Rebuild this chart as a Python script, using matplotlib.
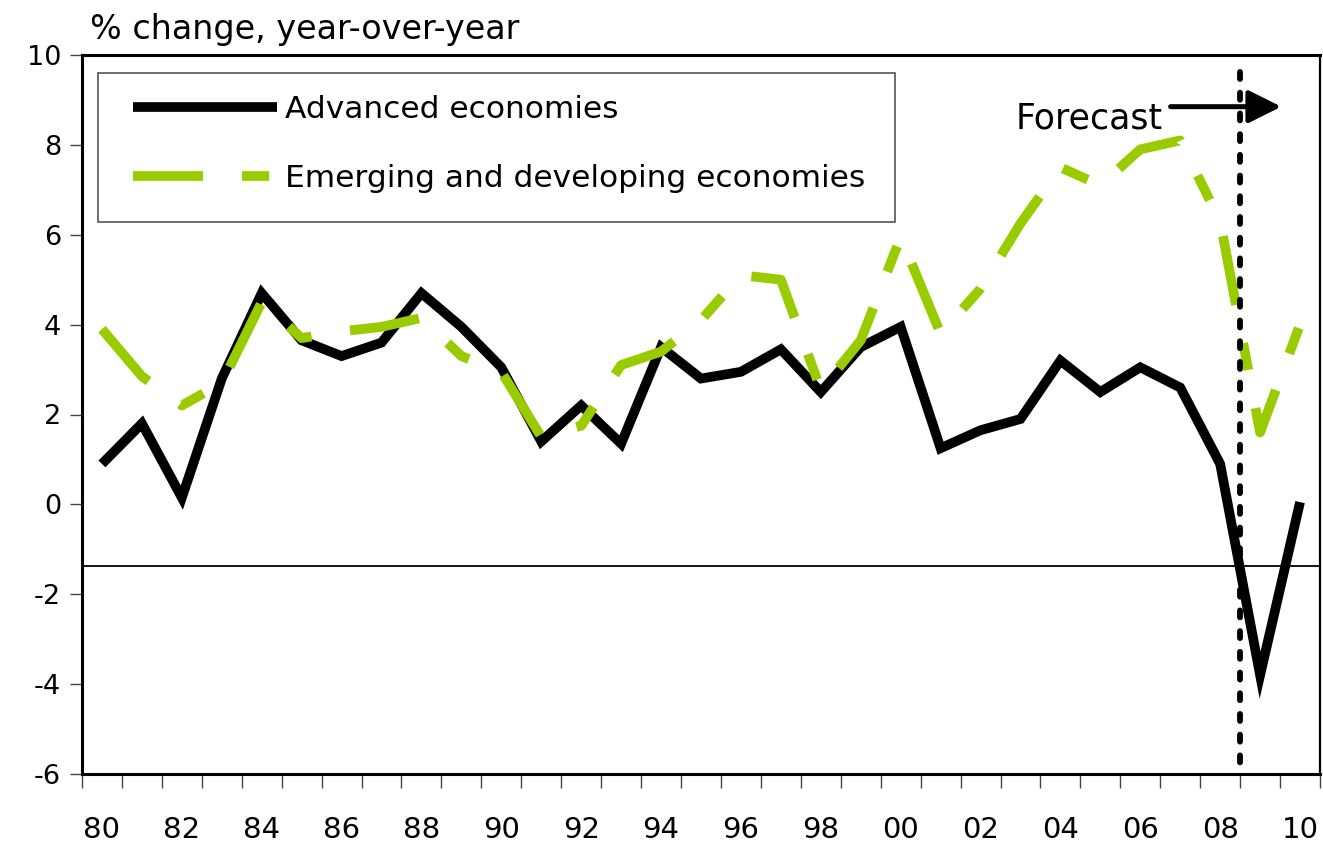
import numpy as np
import matplotlib
matplotlib.use("Agg")
import matplotlib.pyplot as plt
from matplotlib.patches import FancyArrowPatch, Rectangle

# Daten
years = np.arange(1980, 2011)
advanced = [0.9, 1.8, 0.15, 2.8, 4.7, 3.65, 3.3, 3.6, 4.7, 3.95, 3.05,
            1.4, 2.2, 1.35, 3.5, 2.8, 2.95, 3.45, 2.5, 3.5, 3.95,
            1.25, 1.65, 1.9, 3.2, 2.5, 3.05, 2.6, 0.9, -3.8, 0.05]
emerging = [3.9, 2.85, 2.2, 2.7, 4.5, 3.7, 3.85, 3.95, 4.15, 3.3, 2.95,
            1.5, 1.75, 3.1, 3.4, 4.1, 5.1, 5.0, 2.55, 3.65, 5.95,
            3.8, 4.8, 6.25, 7.5, 7.1, 7.9, 8.1, 6.3, 1.6, 4.0]
tick_years = np.arange(1980, 2011, 2)
tick_labels = [f"{y % 100:02d}" for y in tick_years]
forecast_year = 2008.5
ref_line = -1.37

plt.rcParams['font.family'] = ['DejaVu Sans']
plt.rcParams['axes.unicode_minus'] = False

W, H = 1323, 859
fig = plt.figure(figsize=(W / 100, H / 100), dpi=100)
ax = fig.add_axes([82 / W, 85 / H, 1238 / W, 719 / H])

green = '#99cc00'
ax.plot(years, advanced, color='black', lw=7, solid_joinstyle='miter',
        solid_capstyle='butt', label='Advanced economies', zorder=3)
ax.plot(years, emerging, color=green, lw=7, dash_capstyle='butt',
        linestyle=(0, (7.2, 4.0, 2.8, 4.0)),
        label='Emerging and developing economies', zorder=4)

ax.axhline(ref_line, color='black', lw=1.3, zorder=2)
ax.plot([forecast_year, forecast_year], [9.62, -6], color='black', lw=4.2,
        linestyle=(0, (1.2, 2.35)), dash_capstyle='round', zorder=5,
        clip_on=False)

# Forecast-Pfeil
arr = FancyArrowPatch((2006.69, 8.85), (2009.6, 8.85),
                      arrowstyle='-|>,head_length=1.0,head_width=0.5',
                      mutation_scale=20, color='black', lw=3.6,
                      capstyle='round', zorder=6)
ax.add_patch(arr)
ax.text(2006.55, 8.37, 'Forecast', fontsize=25, ha='right', va='baseline')

ax.set_xlim(1979.5, 2010.5)
ax.set_ylim(-6, 10)
ax.set_yticks(np.arange(-6, 11, 2))
ax.set_xticks(tick_years)
ax.set_xticklabels(tick_labels)
ax.set_xticks(np.arange(1979.5, 2011, 1), minor=True)
ax.tick_params(axis='x', which='major', length=0, pad=30, labelsize=21)
ax.tick_params(axis='x', which='minor', length=10, width=1, color='#444444')
ax.tick_params(axis='y', length=9, width=1, color='#444444', pad=6,
               labelsize=19.5)

for s in ['left', 'bottom', 'top']:
    ax.spines[s].set_linewidth(2.2)
ax.spines['right'].set_linewidth(1.6)

# Legende: Rahmen separat, Eintraege ohne Rahmen
frame = Rectangle((98 / W, 1 - 222 / H), (895 - 98) / W, 149 / H,
                  transform=fig.transFigure, facecolor='white',
                  edgecolor='#555555', lw=1.2, zorder=7, clip_on=False)
ax.add_artist(frame)
leg = ax.legend(loc='upper left', bbox_to_anchor=(133 / W, 1 - 95 / H),
                bbox_transform=fig.transFigure, fontsize=22.5,
                handlelength=4.6, handletextpad=0.25, borderpad=0,
                labelspacing=1.29, borderaxespad=0, frameon=False)
leg.set_zorder(8)

fig.text(90 / W, 1 - 30 / H, '% change, year-over-year', fontsize=24,
         ha='left', va='center')

fig.savefig('out.png', dpi=100)
